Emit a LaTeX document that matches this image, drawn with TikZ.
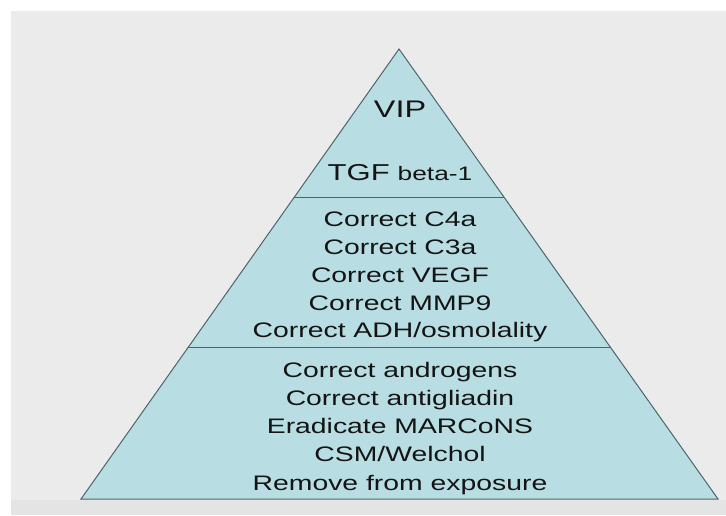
\documentclass[tikz,border=0pt]{standalone}
\usepackage{fontspec}
\setmainfont[FakeStretch=1.35]{Liberation Sans}
\usetikzlibrary{calc}
\definecolor{pyrfill}{HTML}{B8DEE3}
\definecolor{pyredge}{HTML}{4A666B}
\definecolor{bggray}{HTML}{EBEBEB}
\definecolor{bgdark}{HTML}{E4E4E4}
\definecolor{txt}{HTML}{141414}
\begin{document}
\begin{tikzpicture}[x=1pt,y=-1pt,
  edge/.style={draw=pyredge,line width=1pt},
  linetext/.style={anchor=base,inner sep=0pt,text=txt,font=\fontsize{21}{24}\selectfont}]
\useasboundingbox (0,0) rectangle (726,515);
\fill[white] (0,0) rectangle (726,515);
\fill[bggray] (11,11) rectangle (726,515);
\fill[bgdark] (11,500) rectangle (726,515);
\coordinate (apex) at (399,49);
\coordinate (bl) at (81,499);
\coordinate (br) at (718,499);
\filldraw[fill=pyrfill,edge] (apex) -- (bl) -- (br) -- cycle;
\coordinate (d1l) at ($(apex)!0.329!(bl)$);
\coordinate (d1r) at ($(apex)!0.329!(br)$);
\coordinate (d2l) at ($(apex)!0.6644!(bl)$);
\coordinate (d2r) at ($(apex)!0.6644!(br)$);
\draw[edge] (d1l) -- (d1r);
\draw[edge] (d2l) -- (d2r);
\node[linetext,font=\fontsize{24}{28}\selectfont] (vip) at (400,117) {VIP};
\node[linetext] (tgf) at (400,180) {{\fontsize{23}{28}\selectfont TGF} {\fontsize{19.5}{24}\selectfont beta-1}};
\node[linetext] (m1) at (400,226.5) {Correct C4a};
\node[linetext] (m2) at (400,254) {Correct C3a};
\node[linetext] (m3) at (400,282) {Correct VEGF};
\node[linetext] (m4) at (400,310) {Correct MMP9};
\node[linetext] (m5) at (400,337.5) {Correct ADH/osmolality};
\node[linetext] (b1) at (400,377.5) {Correct androgens};
\node[linetext] (b2) at (400,405) {Correct antigliadin};
\node[linetext] (b3) at (400,433.3) {Eradicate MARCoNS};
\node[linetext] (b4) at (400,461.5) {CSM/Welchol};
\node[linetext] (b5) at (400,490) {Remove from exposure};
\end{tikzpicture}
\end{document}
